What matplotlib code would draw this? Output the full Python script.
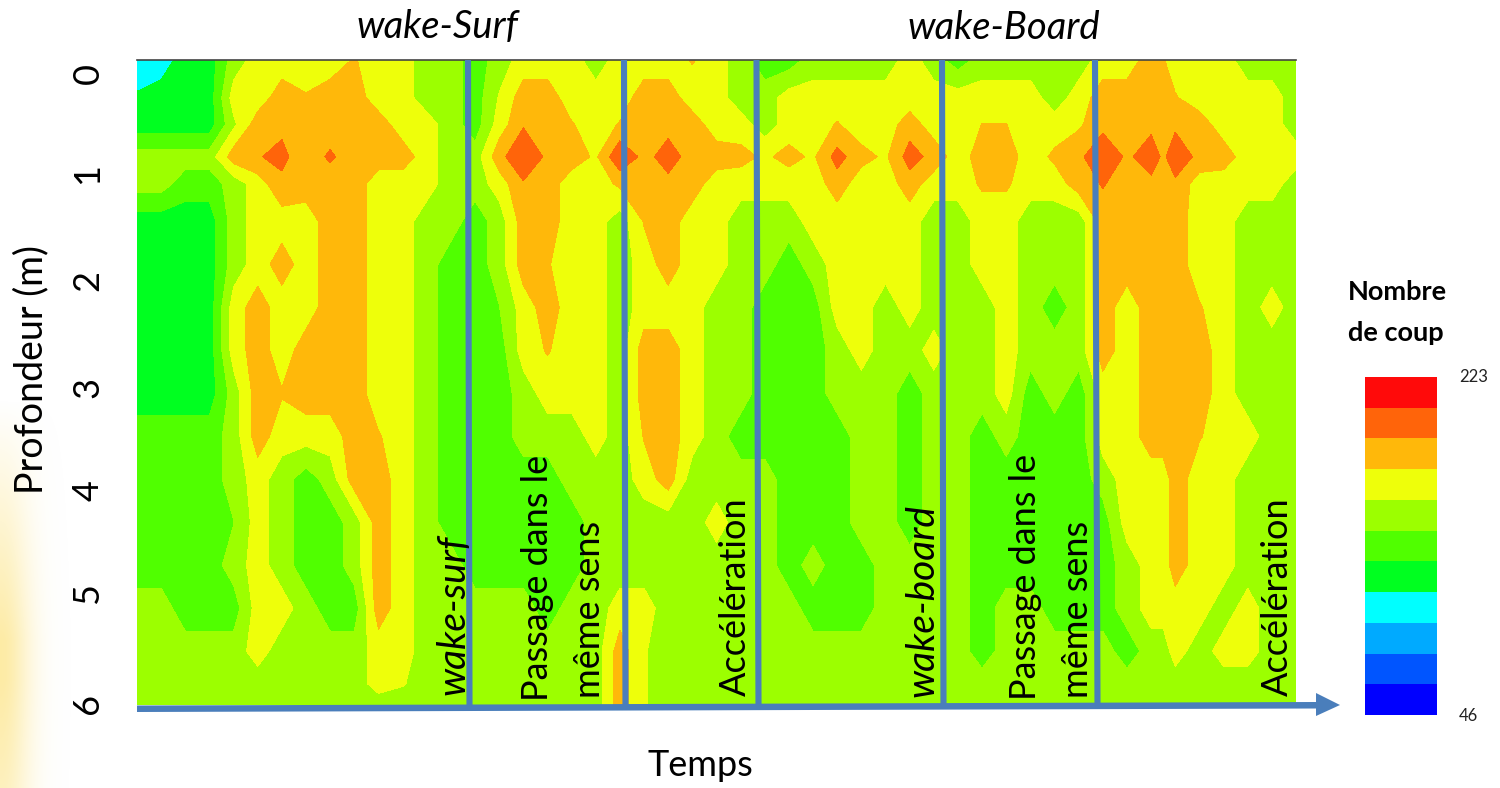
import numpy as np
import matplotlib
matplotlib.use('Agg')
import matplotlib.pyplot as plt
from matplotlib.colors import ListedColormap

W_PX, H_PX = 1500, 788

# number of hits (one value per band)
C, G, L, Y, W, O, R = 102, 118, 134, 150, 166, 183, 199

depths = [0, .35, .6, .9, 1.15, 1.5, 1.9, 2.3, 2.7, 3.1, 3.5, 3.9, 4.3, 4.7, 5.1, 5.5, 5.8, 6.0]
time_steps = list(range(43)) + [42.5] + list(range(43, 49))
time_steps = sorted(time_steps)

counts = [
    [C,C,G,G,Y,W,W,W,W,176, W,W,Y,Y,L,Y,W,W,W,Y, W,W,W,176,W,Y,L,L,Y,Y, Y,Y,W,Y,L,Y,Y,Y,Y,Y, W,W,O,176,W,W,W,Y,Y,Y],
    [112,G,G,G,W,W,O,176,O,O, W,W,Y,Y,L,160,O,O,W,W, W,O,O,W,W,Y,Y,W,W,W, W,W,W,W,W,W,W,W,Y,W, O,O,O,176,176,W,W,W,W,Y],
    [G,G,G,G,155,O,188,O,O,O, O,W,W,Y,L,W,189,O,176,W, 176,186,186,O,W,W,Y,W,W,176, W,W,O,W,W,175,175,W,W,172, 186,O,187,O,188,O,W,W,W,Y],
    [Y,Y,Y,Y,O,190,194,O,193,O, O,O,W,Y,Y,185,206,187,O,172, 205,186,197,185,O,180,172,180,172,197, 180,172,198,185,W,O,O,W,178,187, 204,188,199,188,200,187,O,W,W,W],
    [Y,Y,L,L,Y,W,188,O,O,O, W,W,W,Y,Y,W,189,O,W,W, 178,187,187,O,W,W,W,W,W,O, W,W,O,W,W,177,177,W,W,O, 192,O,187,O,188,W,W,W,W,Y],
    [G,G,G,G,Y,W,W,W,O,O, W,W,Y,Y,L,Y,O,O,W,W, Y,176,O,W,W,Y,Y,Y,W,W, W,W,W,Y,Y,W,W,Y,Y,Y, O,O,O,O,O,W,W,Y,Y,Y],
    [G,G,G,G,Y,W,O,W,O,O, W,W,Y,L,L,Y,O,176,W,W, Y,W,O,W,W,Y,Y,L,Y,W, W,W,W,Y,Y,W,W,Y,Y,Y, O,O,O,O,O,W,W,Y,Y,Y],
    [G,G,G,G,W,O,W,W,O,O, W,W,Y,L,L,142,W,O,W,W, Y,W,W,W,Y,Y,L,L,L,W, W,Y,W,Y,Y,Y,W,Y,L,Y, O,W,O,O,O,176,W,Y,W,Y],
    [G,G,G,G,W,O,W,O,O,O, W,W,Y,L,L,L,W,176,W,W, Y,O,O,W,Y,Y,L,L,L,Y, W,Y,Y,W,Y,Y,W,Y,Y,Y, O,W,O,O,O,O,W,Y,Y,Y],
    [G,G,G,G,Y,O,176,O,O,O, W,W,Y,L,L,L,Y,W,W,W, Y,O,O,W,Y,Y,L,L,L,Y, Y,Y,L,Y,Y,Y,W,L,Y,L, W,W,O,O,O,O,W,Y,Y,Y],
    [L,L,L,L,Y,O,W,W,W,O, 176,W,Y,L,L,L,Y,Y,Y,W, Y,176,O,W,Y,L,L,L,L,L, Y,Y,L,Y,Y,L,Y,L,L,L, W,W,O,O,O,176,W,W,Y,Y],
    [L,L,L,L,Y,W,Y,L,Y,O, O,W,Y,L,L,L,L,L,Y,Y, Y,W,O,Y,Y,Y,Y,L,L,L, Y,Y,L,Y,Y,L,L,L,L,L, Y,W,W,W,O,W,W,Y,Y,Y],
    [L,L,L,L,142,W,Y,L,L,Y, O,W,Y,L,L,L,L,L,L,Y, Y,Y,Y,Y,W,Y,Y,L,L,L, Y,Y,L,Y,Y,L,L,L,L,L, L,W,W,W,O,W,W,Y,Y,Y],
    [L,L,L,L,Y,W,Y,L,L,Y, O,W,Y,Y,L,L,L,L,L,Y, Y,Y,Y,Y,Y,Y,Y,L,Y,L, L,Y,Y,Y,Y,L,L,L,L,L, L,Y,W,W,O,W,W,Y,Y,Y],
    [Y,Y,L,L,L,W,W,Y,L,L, O,W,Y,Y,Y,Y,Y,L,Y,Y, W,W,Y,Y,Y,Y,Y,Y,L,L, L,Y,Y,Y,Y,L,Y,Y,L,L, L,Y,W,W,W,W,Y,W,Y,Y],
    [Y,Y,Y,Y,Y,W,Y,Y,Y,Y, W,W,Y,Y,Y,Y,Y,Y,Y,Y, O,160,Y,Y,Y,Y,Y,Y,Y,Y, Y,Y,Y,Y,Y,L,Y,Y,Y,Y, Y,L,Y,Y,W,Y,W,W,Y,Y],
    [Y,Y,Y,Y,Y,Y,Y,Y,Y,Y, W,160,Y,Y,Y,Y,Y,Y,Y,Y, O,160,Y,Y,Y,Y,Y,Y,Y,Y, Y,Y,Y,Y,Y,Y,Y,Y,Y,Y, Y,Y,Y,Y,Y,Y,Y,Y,Y,Y],
    [Y,Y,Y,Y,Y,Y,Y,Y,Y,Y, Y,Y,Y,Y,Y,Y,Y,Y,Y,Y, O,160,Y,Y,Y,Y,Y,Y,Y,Y, Y,Y,Y,Y,Y,Y,Y,Y,Y,Y, Y,Y,Y,Y,Y,Y,Y,Y,Y,Y],
]

scale_min, scale_max = 46, 223
band_colors = ['#0000ff', '#0055ff', '#00aaff', '#00ffff', '#00ff20', '#50ff00',
               '#9cff00', '#eeff0a', '#ffb80a', '#ff640a', '#ff0a0a']

tick_labels = ['0', '1', '2', '3', '4', '5', '6']
tick_y = [73, 173, 280, 387, 491, 593, 703]

# (x at top, x at bottom) of the separators
separators = [(468, 469.5), (624, 625.5), (756.5, 758.5), (942, 943.5), (1095, 1097.5)]

levels = np.linspace(scale_min, scale_max, len(band_colors) + 1)
cmap = ListedColormap(band_colors)

plt.rcParams['font.family'] = ['Lato', 'DejaVu Sans']

fig = plt.figure(figsize=(W_PX / 100, H_PX / 100), dpi=100)


def px_axes(left, top, right, bottom):
    return fig.add_axes([left / W_PX, 1 - bottom / H_PX, (right - left) / W_PX, (bottom - top) / H_PX])


# yellow glow of the slide background
bg = px_axes(0, 0, W_PX, H_PX)
xx, yy = np.meshgrid(np.arange(W_PX), np.arange(H_PX))
glow = np.zeros((H_PX, W_PX, 4))
glow[..., :3] = matplotlib.colors.to_rgb('#fdebA5')
glow[..., 3] = np.exp(-(xx / 30.0) ** 2) * np.clip((yy - 400) / 240.0, 0, 1) * (1 - np.clip((yy - 680) / 400.0, 0, .5))
bg.imshow(glow, extent=(0, W_PX, H_PX, 0), aspect='auto', interpolation='bilinear')
bg.set_xlim(0, W_PX)
bg.set_ylim(H_PX, 0)
bg.axis('off')

# main chart
ax = px_axes(137, 60, 1296, 705)
ax.contourf(time_steps, depths, np.array(counts), levels=levels, cmap=cmap)
ax.set_ylim(6, 0)
ax.axis('off')

# colour scale
cb = px_axes(1365, 377, 1437, 715)
cb.pcolormesh([0, 1], levels, np.array(levels[:-1] + 1).reshape(-1, 1), cmap=cmap,
              vmin=scale_min, vmax=scale_max)
cb.axis('off')

# annotations in pixel coordinates
top = px_axes(0, 0, W_PX, H_PX)
top.set_xlim(0, W_PX)
top.set_ylim(H_PX, 0)
top.axis('off')
top.patch.set_alpha(0)

top.plot([137, 1296], [59.5, 59.5], color='#444444', lw=1.2)
for x0, x1 in separators:
    top.plot([x0, x1], [60, 706], color='#4a7ebb', lw=4.4, solid_capstyle='butt')
top.fill([137, 1316, 1316, 1340, 1316, 1316, 137], [705.5, 702, 693, 705, 716, 708.5, 712],
         color='#4a7ebb', lw=0)

for label, y in zip(tick_labels, tick_y):
    top.text(88, y, label, rotation=90, ha='center', va='center', fontsize=26)
top.text(31, 369, 'Profondeur (m)', rotation=90, ha='center', va='center', fontsize=27)
top.text(700, 765, 'Temps', ha='center', va='center', fontsize=26)
top.text(437, 27, 'wake-Surf', style='italic', ha='center', va='center', fontsize=27.5)
top.text(1004, 28, 'wake-Board', style='italic', ha='center', va='center', fontsize=27.5)

for x, y, label, style, size in [(453, 695, 'wake-surf', 'italic', 28),
                                 (537, 701, 'Passage dans le', 'normal', 26),
                                 (590, 698, 'même sens', 'normal', 26),
                                 (735, 696, 'Accélération', 'normal', 26),
                                 (922, 697, 'wake-board', 'italic', 28),
                                 (1025, 700, 'Passage dans le', 'normal', 26),
                                 (1077, 698, 'même sens', 'normal', 26),
                                 (1277, 696, 'Accélération', 'normal', 26)]:
    top.text(x, y, label, rotation=90, ha='center', va='bottom', style=style, fontsize=size)

top.text(1397, 292, 'Nombre', weight='bold', ha='center', va='center', fontsize=19.5)
top.text(1396, 333, 'de coup', weight='bold', ha='center', va='center', fontsize=19.5)
top.text(1459, 377, str(scale_max), ha='left', va='center', fontsize=12, color='#222222')
top.text(1459, 716, str(scale_min), ha='left', va='center', fontsize=12, color='#222222')

fig.savefig('out.png', dpi=100)
